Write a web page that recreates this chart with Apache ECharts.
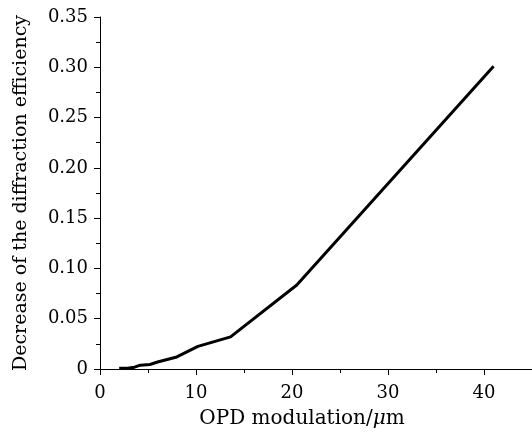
<!DOCTYPE html>
<html>
<head>
<meta charset="utf-8">
<script src="https://cdn.jsdelivr.net/npm/echarts@6/dist/echarts.min.js"></script>
<style>
    html, body { margin: 0; padding: 0; background: #fff; }
    #chart { width: 532px; height: 433px; }
</style>
</head>
<body>
<div id="chart"></div>
<script>
    // OPD modulation (μm) 和 衍射效率下降量
    var opd = [2, 3, 3.6, 4.2, 5.2, 6, 8, 10.2, 13.6, 20.5, 41];
    var decrease = [0.0008, 0.001, 0.0018, 0.0038, 0.0045, 0.007, 0.012, 0.0225, 0.032, 0.0835, 0.301];

    var serif = 'DejaVu Serif';
    var myChart = echarts.init(document.getElementById('chart'));
    myChart.setOption({
        animation: false,
        grid: { left: 100, right: 0, top: 17, bottom: 64, outerBoundsMode: 'none', containLabel: false },
        xAxis: {
            type: 'value',
            min: 0,
            max: 45,
            interval: 10,
            name: 'OPD modulation/{i|μ}m',
            nameLocation: 'middle',
            nameGap: 40,
            nameTextStyle: {
                fontFamily: serif, fontSize: 20, color: '#000',
                padding: [0, 28, 0, 0],
                rich: { i: { fontFamily: serif, fontSize: 20, fontStyle: 'italic', color: '#000' } }
            },
            axisLine: { lineStyle: { color: '#000', width: 1 } },
            axisTick: { inside: false, length: 6, lineStyle: { color: '#000' } },
            minorTick: { show: true, splitNumber: 2, length: 4, lineStyle: { color: '#000' } },
            axisLabel: { fontFamily: serif, fontSize: 18, color: '#000', margin: 15, showMaxLabel: false },
            splitLine: { show: false }
        },
        yAxis: {
            type: 'value',
            min: 0,
            max: 0.35,
            interval: 0.05,
            name: 'Decrease of the diffraction efficiency',
            nameLocation: 'middle',
            nameGap: 69,
            nameTextStyle: { fontFamily: serif, fontSize: 19, color: '#000' },
            axisLine: { show: true, lineStyle: { color: '#000', width: 1 } },
            axisTick: { show: true, inside: false, length: 6, lineStyle: { color: '#000' } },
            minorTick: { show: true, splitNumber: 2, length: 4, lineStyle: { color: '#000' } },
            axisLabel: {
                fontFamily: serif, fontSize: 18, color: '#000', margin: 12,
                formatter: function (v) { return v === 0 ? '0' : v.toFixed(2); }
            },
            splitLine: { show: false }
        },
        series: [{
            type: 'line',
            data: opd.map(function (x, i) { return [x, decrease[i]]; }),
            showSymbol: false,
            lineStyle: { color: '#000', width: 3 },
            clip: false
        }]
    });
</script>
</body>
</html>
